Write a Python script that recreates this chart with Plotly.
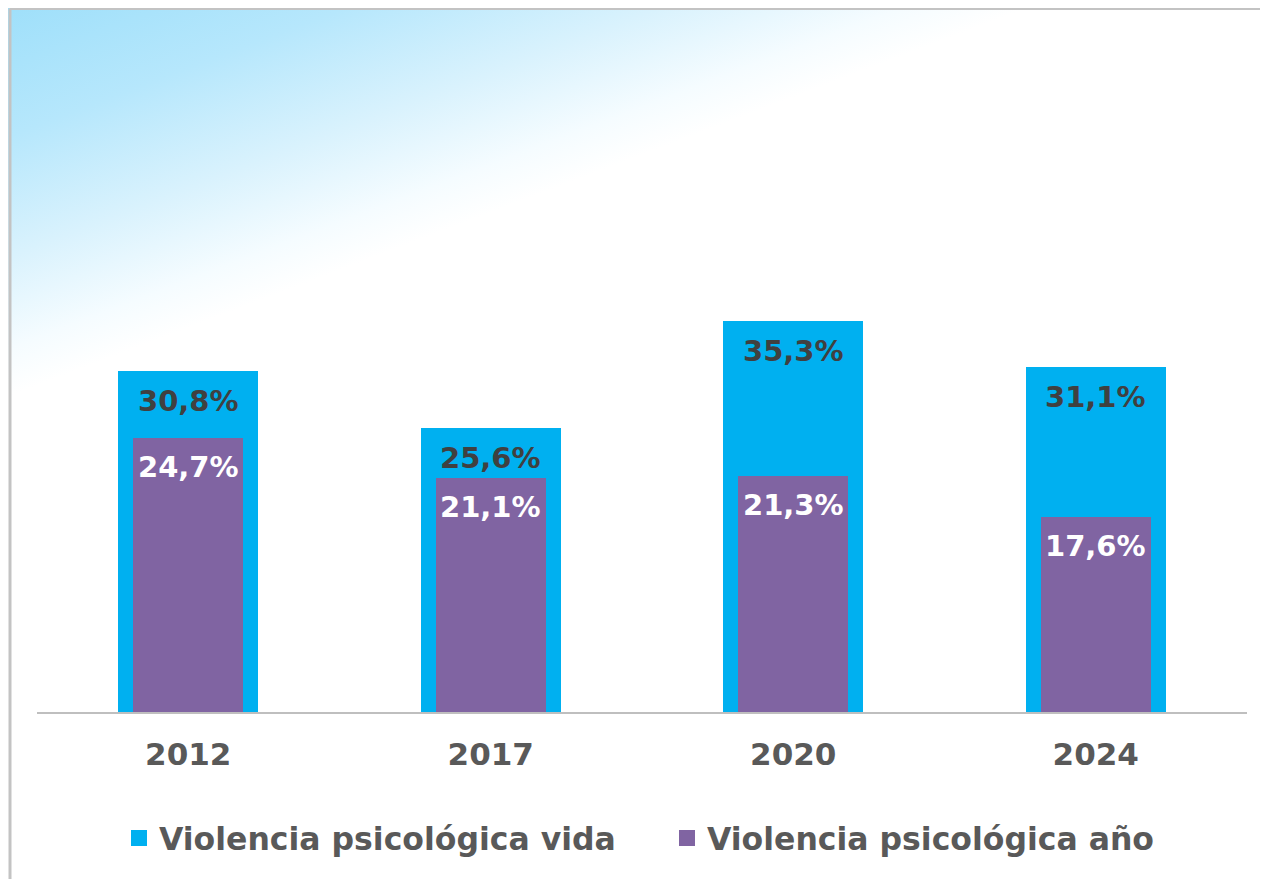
import base64
import plotly.graph_objects as go

years = ["2012", "2017", "2020", "2024"]
vida = [30.8, 25.6, 35.3, 31.1]
anio = [24.7, 21.1, 21.3, 17.6]
vida_labels = ["30,8%", "25,6%", "35,3%", "31,1%"]
anio_labels = ["24,7%", "21,1%", "21,3%", "17,6%"]
series_names = ["Violencia psicológica vida", "Violencia psicológica año"]

BLUE = "#00b0f0"
PURPLE = "#8064a2"
FONT = "DejaVu Sans"

OFF = 8  # page body margin
W, H = 1268, 879
L = 37 - OFF
T = 10 - OFF
plot_right = 1247 - OFF
plot_bottom = 712 - OFF
R = W - plot_right
B = H - plot_bottom
pw, ph = W - L - R, H - T - B

def px_x(x):  # figure pixel -> paper x
    return (x - L) / pw

def px_y(y):  # figure pixel -> paper y
    return (plot_bottom - y) / ph

svg = f'''<svg xmlns="http://www.w3.org/2000/svg" width="{W}" height="{H}" preserveAspectRatio="none" viewBox="0 0 {W} {H}"><defs><linearGradient id="g" gradientUnits="userSpaceOnUse" x1="-8" y1="-8" x2="125" y2="341"><stop offset="0" stop-color="#9ddffa"/><stop offset="0.35" stop-color="#b6e7fc"/><stop offset="0.65" stop-color="#d9f2fd"/><stop offset="0.88" stop-color="#f5fcff"/><stop offset="1" stop-color="#ffffff"/></linearGradient></defs><rect width="{W}" height="{H}" fill="url(#g)"/></svg>'''
src = "data:image/svg+xml;base64," + base64.b64encode(svg.encode()).decode()

fig = go.Figure()
fig.add_trace(go.Bar(x=years, y=vida, width=0.463, marker=dict(color=BLUE, line=dict(width=0)),
                     name=series_names[0], showlegend=False, hoverinfo="skip"))
fig.add_trace(go.Bar(x=years, y=anio, width=0.364, marker=dict(color=PURPLE, line=dict(width=0)),
                     name=series_names[1], showlegend=False, hoverinfo="skip"))
# legend proxies
fig.add_trace(go.Scatter(x=[years[0]], y=[None], mode="markers", name=series_names[0],
                         marker=dict(symbol="square", size=17, color=BLUE), hoverinfo="skip"))
fig.add_trace(go.Scatter(x=[years[0]], y=[None], mode="markers", name=series_names[1],
                         marker=dict(symbol="square", size=17, color=PURPLE), hoverinfo="skip"))

ann = []
for i, (v, t) in enumerate(zip(vida, vida_labels)):
    ann.append(dict(x=i, y=v, text=t, showarrow=False, yanchor="middle", yshift=-30,
                    font=dict(family=FONT, size=29, color="#404040", weight="bold")))
for i, (v, t) in enumerate(zip(anio, anio_labels)):
    ann.append(dict(x=i, y=v, text=t, showarrow=False, yanchor="middle", yshift=-29,
                    font=dict(family=FONT, size=29, color="#ffffff", weight="bold")))

frame_x = 10 - OFF
frame_y = 0.5
shapes = [
    dict(type="line", xref="paper", yref="paper", x0=px_x(frame_x), x1=px_x(W + 5),
         y0=px_y(frame_y), y1=px_y(frame_y), line=dict(color="#c3c3c3", width=3), layer="above"),
    dict(type="line", xref="paper", yref="paper", x0=px_x(frame_x), x1=px_x(frame_x),
         y0=px_y(frame_y), y1=px_y(H + 5), line=dict(color="#c3c3c3", width=3), layer="above"),
]

fig.update_layout(
    width=W, height=H, autosize=False,
    margin=dict(l=L, r=R, t=T, b=B, autoexpand=False),
    paper_bgcolor="#ffffff", plot_bgcolor="rgba(0,0,0,0)",
    barmode="overlay", bargap=0,
    font=dict(family=FONT, color="#595959"),
    xaxis=dict(type="category", categoryorder="array", categoryarray=years, range=[-0.5, 3.5],
               showline=True, linecolor="#bfbfbf", linewidth=2, ticks="",
               showgrid=False, zeroline=False, automargin=False,
               tickfont=dict(family=FONT, size=31, color="#595959", weight="bold"),
               ticklabelstandoff=14, fixedrange=True),
    yaxis=dict(visible=False, range=[0, ph / 11.08], showgrid=False, zeroline=False,
               fixedrange=True, automargin=False),
    legend=dict(orientation="h", x=0.5 + 25 / pw, xanchor="center", y=px_y(838 - OFF), yanchor="middle",
                font=dict(family=FONT, size=31.5, color="#595959", weight="bold"),
                bgcolor="rgba(0,0,0,0)", entrywidth=503, entrywidthmode="pixels"),
    annotations=ann,
    shapes=shapes,
    images=[dict(source=src, xref="paper", yref="paper", x=px_x(0), y=px_y(0),
                 sizex=W / pw, sizey=H / ph, sizing="stretch", xanchor="left", yanchor="top",
                 layer="below")],
)

fig.write_html("out.html")
